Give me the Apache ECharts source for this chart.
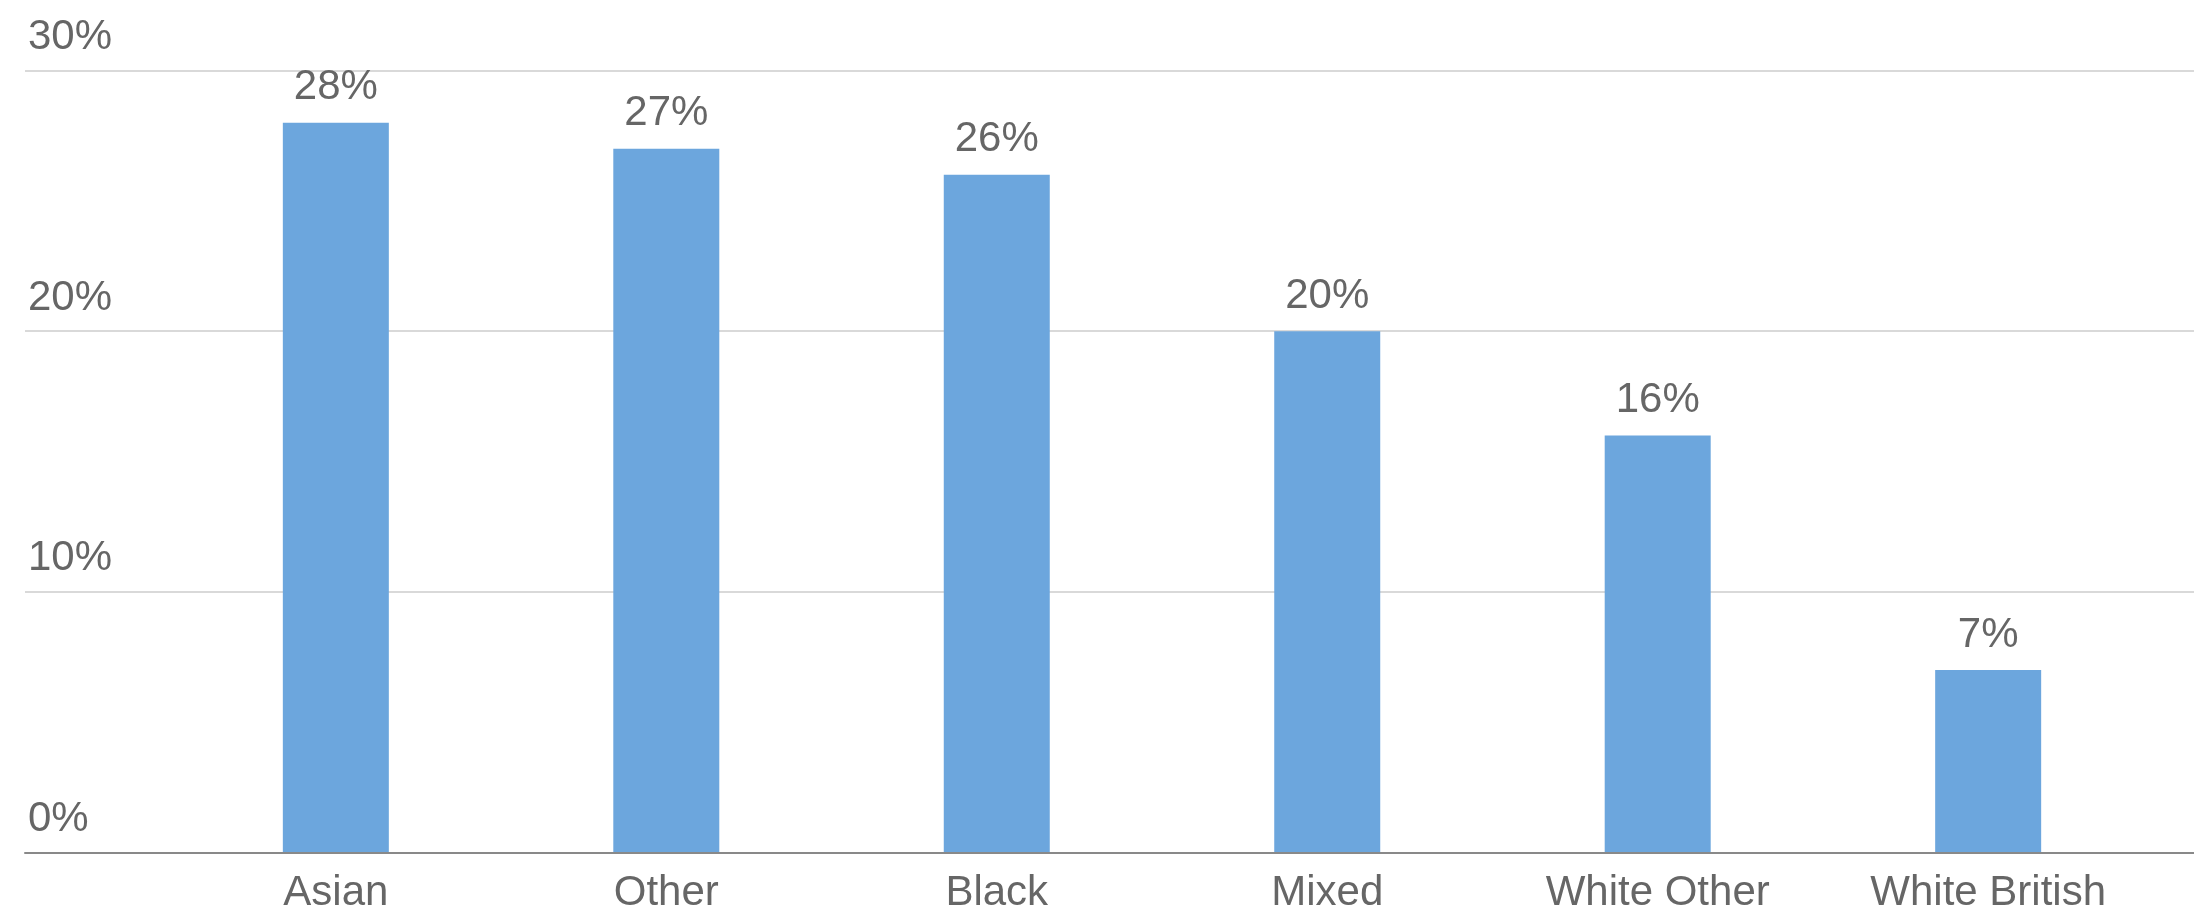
<!DOCTYPE html>
<html>
<head>
<meta charset="utf-8">
<script src="https://cdn.jsdelivr.net/npm/echarts@6/dist/echarts.min.js"></script>
<style>
html,body{margin:0;padding:0;background:#fff;}
#chart{width:2194px;height:916px;}
</style>
</head>
<body>
<div id="chart"></div>
<script>
const categories = ['Asian', 'Other', 'Black', 'Mixed', 'White Other', 'White British'];
const values = [28, 27, 26, 20, 16, 7];
const yMin = 0, yMax = 30, yInterval = 10;

const FONT = '"Liberation Sans", Arial, sans-serif';
const TXT = '#666666';
const chart = echarts.init(document.getElementById('chart'), null, {renderer: 'canvas'});
const gridTop = 70.5, gridBottom = 63.5;
chart.setOption({
  animation: false,
  backgroundColor: '#ffffff',
  grid: [
    {left: 25, right: 0, top: gridTop, bottom: gridBottom},
    {left: 170.6, right: 40.6, top: gridTop, bottom: gridBottom}
  ],
  xAxis: [
    {gridIndex: 0, type: 'value', min: 0, max: 1, z: 5,
     axisLine: {show: true, onZero: false, lineStyle: {color: '#898989', width: 2}},
     axisTick: {show: false}, axisLabel: {show: false}, splitLine: {show: false}},
    {gridIndex: 1, type: 'category', data: categories,
     axisLine: {show: false}, axisTick: {show: false},
     axisLabel: {color: TXT, fontSize: 42, fontFamily: FONT, margin: 20}}
  ],
  yAxis: [
    {gridIndex: 0, type: 'value', min: yMin, max: yMax, interval: yInterval,
     axisLine: {show: false}, axisTick: {show: false},
     splitLine: {show: true, lineStyle: {color: '#d9d9d9', width: 2}},
     axisLabel: {inside: true, margin: 3, color: TXT, fontSize: 42, fontFamily: FONT,
       verticalAlign: 'bottom', padding: [0, 0, 12, 0], formatter: '{value}%'}},
    {gridIndex: 1, type: 'value', min: yMin, max: yMax, interval: yInterval, show: false,
     splitLine: {show: false}}
  ],
  series: [{
    type: 'bar', xAxisIndex: 1, yAxisIndex: 1, data: values,
    barWidth: 106,
    itemStyle: {color: '#6CA6DD'},
    label: {show: true, position: 'top', distance: 14, color: TXT, fontSize: 42,
      fontFamily: FONT, formatter: '{c}%'}
  }]
});
</script>
</body>
</html>
